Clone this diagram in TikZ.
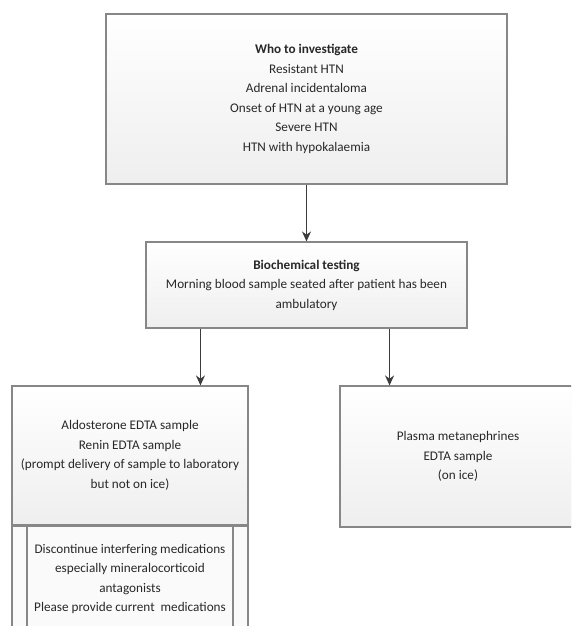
\documentclass[tikz,border=0pt]{standalone}
\usepackage{fontspec}
\setmainfont{Carlito}
\usetikzlibrary{
  arrows.meta,
  positioning,
  calc,
  shadows
}
\definecolor{boxline}{RGB}{135, 135, 135}
\definecolor{boxtext}{RGB}{40, 40, 40}
\definecolor{arrowgray}{RGB}{60, 60, 60}

\begin{document}
\begin{tikzpicture}[
  x=1pt, y=-1pt,
  box/.style={draw=boxline, line width=1.1pt, top color=white, bottom color=gray!13,
    text=boxtext, align=center, inner sep=0pt,
    font=\fontsize{13.2}{19.5}\selectfont,
    drop shadow={shadow xshift=1.4pt, shadow yshift=-1.4pt, opacity=0.2}},
  plain/.style={draw=boxline, line width=1.1pt, fill=gray!4,
    text=boxtext, align=center, inner sep=0pt,
    font=\fontsize{13.2}{19.5}\selectfont},
  arr/.style={draw=arrowgray, line width=1.3pt, -{Stealth[length=10pt, width=9pt]}}
]
\useasboundingbox (0,0) rectangle (571,626);
\clip (0,0) rectangle (571,626);

% who to investigate
\node[box, minimum width=401pt, minimum height=170pt] (who) at (306.5,99)
  {\textbf{Who to investigate}\\ Resistant HTN\\ Adrenal incidentaloma\\
   Onset of HTN at a young age\\ Severe HTN\\ HTN with hypokalaemia};

% biochemical testing
\node[box, minimum width=321pt, minimum height=86pt] (bio) at (306.5,285)
  {\textbf{Biochemical testing}\\ Morning blood sample seated after patient has been\\ ambulatory};

% samples
\node[box, minimum width=236pt, minimum height=139pt] (ald) at (130,455.5)
  {Aldosterone EDTA sample\\ Renin EDTA sample\\
   (prompt delivery of sample to laboratory\\ but not on ice)};
\node[box, minimum width=236pt, minimum height=141pt] (meta) at (458,456.5)
  {Plasma metanephrines\\ EDTA sample\\ (on ice)};

% medication note below aldosterone box
\node[plain, minimum width=236pt, minimum height=130pt, anchor=north] (medout) at (ald.south) {};
\node[plain, minimum width=206pt, minimum height=106pt, anchor=north] (med) at (ald.south)
  {Discontinue interfering medications\\ especially mineralocorticoid\\ antagonists\\
   Please provide current\ \ medications};

% arrows
\draw[arr] (who.south) -- (bio.north);
\draw[arr] ([xshift=55pt]bio.south west) -- ([xshift=55pt]bio.south west |- ald.north);
\draw[arr] ([xshift=-78pt]bio.south east) -- ([xshift=-78pt]bio.south east |- meta.north);

\end{tikzpicture}
\end{document}
